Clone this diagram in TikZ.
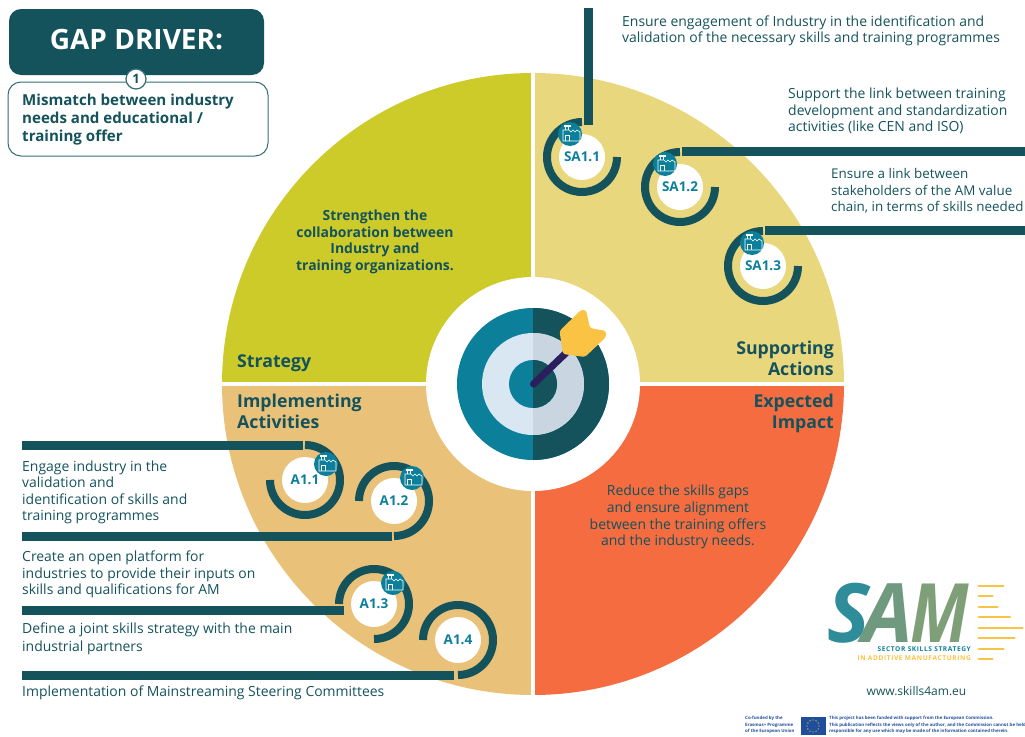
\documentclass[tikz,border=0pt]{standalone}
\usepackage{fontspec}
\setmainfont{Open Sans}

\definecolor{darkteal}{HTML}{14525C}
\definecolor{midteal}{HTML}{0C7F9B}
\definecolor{oliveq}{HTML}{CCCB2A}
\definecolor{yellowq}{HTML}{E9D77E}
\definecolor{tanq}{HTML}{E9C179}
\definecolor{orangeq}{HTML}{F46C40}
\definecolor{paleblue}{HTML}{D9E7F3}
\definecolor{palegrey}{HTML}{C9D5E0}
\definecolor{dartnavy}{HTML}{2A1F5C}
\definecolor{dartyellow}{HTML}{FBC343}
\definecolor{eublue}{HTML}{1F4E9C}
\definecolor{logoS}{HTML}{2F8C99}
\definecolor{logoA}{HTML}{6F9A80}
\definecolor{logoM}{HTML}{7F9F78}

\begin{document}
\begin{tikzpicture}[x=1pt, y=-1pt,
    bodytext/.style={inner sep=0, text=darkteal, align=left, anchor=north west, font=\fontsize{13.95}{16.5}\selectfont},
    boldtext/.style={inner sep=0, text=darkteal, align=center, font=\fontsize{13.95}{16.5}\bfseries\selectfont},
    headtext/.style={inner sep=0, text=darkteal, font=\fontsize{17.7}{21}\bfseries\selectfont},
    ringhole/.style={circle, fill=white, minimum size=46pt, inner sep=0, text=midteal, font=\fontsize{13.5}{13.5}\bfseries\selectfont},
    ringline/.style={draw=darkteal, line width=8pt},
    barline/.style={draw=darkteal, line width=9pt},
    iconball/.style={circle, fill=midteal, minimum size=24pt, inner sep=0},
    stripe/.style={draw=dartyellow, line width=2pt, line cap=round},
    logoletter/.style={inner sep=0, font=\fontsize{82}{82}\bfseries\itshape\selectfont},
    tinytext/.style={inner sep=0, anchor=north west, align=left, text=eublue, font=\fontsize{4.4}{6.6}\bfseries\selectfont},
    factory/.pic={
        \draw[white, line width=0.6pt] (-7,7) -- (-7,-4) -- (-1,-4) -- (1,-2) -- (3,-4) -- (5,-2) -- (7,-4) -- (10,-2) -- (10,7) -- cycle;
        \draw[white, line width=0.6pt] (-5,7) -- (-5,1) -- (-1,1) -- (-1,7);
        \fill[white] (-6,-9) rectangle (1,-7);
        \draw[white, line width=0.8pt] (-4.5,-7) -- (-4.5,-4) (-1.5,-7) -- (-1.5,-4);
    }]

    \useasboundingbox (0,0) rectangle (1025,736);

    % the four quarters
    \fill[oliveq] (533,384) -- (222,384) arc[start angle=180, end angle=270, radius=311] -- cycle;
    \fill[yellowq] (533,384) -- (533,73) arc[start angle=270, end angle=360, radius=311] -- cycle;
    \fill[tanq] (533,384) -- (533,695) arc[start angle=90, end angle=180, radius=311] -- cycle;
    \fill[orangeq] (533,384) -- (844,384) arc[start angle=0, end angle=90, radius=311] -- cycle;
    \draw[white, line width=4pt] (533,70) -- (533,698);
    \draw[white, line width=4pt] (219,384) -- (847,384);

    % target
    \fill[white] (533,384) circle[radius=107];
    \fill[midteal] (533,384) circle[radius=76];
    \fill[darkteal] (533,308) arc[start angle=270, end angle=450, radius=76] -- cycle;
    \fill[paleblue] (533,384) circle[radius=51];
    \fill[palegrey] (533,333) arc[start angle=270, end angle=450, radius=51] -- cycle;
    \fill[midteal] (533,384) circle[radius=24];
    \fill[darkteal] (533,360) arc[start angle=270, end angle=450, radius=24] -- cycle;
    \draw[dartnavy, line width=7pt, line cap=round] (533.5,384) -- (567,352);
    \fill[dartyellow, rounded corners=2.5pt] (559.5,331) -- (581,310) -- (586,310) -- (590,328) -- (606,331) -- (606,337) -- (585,357) -- (563,354) -- cycle;

    % gap driver boxes
    \node[fill=darkteal, rounded corners=12pt, minimum width=255pt, minimum height=66pt, inner sep=0] (gapbox) at (136.5,42) {};
    \node[inner sep=0, text=white, font=\fontsize{28}{28}\bfseries\selectfont] (gaptitle) at (136.5,39.5) {GAP DRIVER:};
    \node[draw=darkteal!85, fill=white, line width=1pt, rounded corners=13pt, minimum width=260pt, minimum height=74pt] (mismatchbox) at (138,119) {};
    \node[circle, draw=darkteal!85, fill=white, line width=1.2pt, minimum size=20pt, inner sep=0, text=darkteal, font=\fontsize{13}{13}\bfseries\selectfont] (gapnumber) at (136,79) {1};
    \node[inner sep=0, anchor=north west, align=left, text=darkteal, font=\fontsize{15.1}{18}\bfseries\selectfont] (mismatchtext) at (22,94) {Mismatch between industry\\needs and educational /\\training offer};

    % quarter texts
    \node[boldtext] (strengthen) at (375,242) {Strengthen the\\collaboration between\\Industry and\\training organizations.};
    \node[headtext, anchor=west] (strategy) at (237,363) {Strategy};
    \node[headtext, anchor=east, align=right] (supporting) at (834,358.5) {Supporting\\Actions};
    \node[headtext, anchor=west, align=left] (implementing) at (237,411.5) {Implementing\\Activities};
    \node[headtext, anchor=east, align=right] (expected) at (834,413) {Expected\\Impact};
    \node[inner sep=0, text=darkteal, align=center, font=\fontsize{13.95}{16.8}\selectfont] (reduce) at (678,517) {Reduce the skills gaps\\and ensure alignment\\between the training offers\\and the industry needs.};

    % supporting actions
    \node[ringhole] (SA11) at (582,157) {SA1.1};
    \node[ringhole] (SA12) at (680,187) {SA1.2};
    \node[ringhole] (SA13) at (763,266) {SA1.3};

    \draw[ringline] ([xshift=35pt]SA11.center) arc[start angle=0, end angle=270, radius=35];
    \draw[ringline] ([xshift=35pt]SA12.center) arc[start angle=0, end angle=270, radius=35];
    \draw[ringline] ([xshift=35pt]SA13.center) arc[start angle=0, end angle=270, radius=35];

    \node[iconball] (iconSA11) at (570,134) {};
    \node[iconball] (iconSA12) at (665,164) {};
    \node[iconball] (iconSA13) at (752,243) {};
    \pic at (iconSA11) {factory};
    \pic at (iconSA12) {factory};
    \pic at (iconSA13) {factory};

    \coordinate (barSA11) at (588,8);
    \coordinate (barSA12) at (1025,151.5);
    \coordinate (barSA13) at (1025,230.5);
    \draw[barline] (barSA11) -- ([shift={(6pt,32pt)}]SA11.center);
    \draw[barline] (barSA12) -- ([shift={(1.5pt,35.5pt)}]SA12.center);
    \draw[barline] (barSA13) -- ([shift={(1.5pt,35.5pt)}]SA13.center);

    \node[bodytext] (textSA11) at (622,15.5) {Ensure engagement of Industry in the identification and\\validation of the necessary skills and training programmes};
    \node[bodytext] (textSA12) at (788,88) {Support the link between training\\development and standardization\\activities (like CEN and ISO)};
    \node[bodytext, font=\fontsize{13.4}{16.5}\selectfont] (textSA13) at (831,168.5) {Ensure a link between\\stakeholders of the AM value\\chain, in terms of skills needed};

    % implementing activities
    \node[ringhole] (A11) at (305,480) {A1.1};
    \node[ringhole] (A12) at (394,501) {A1.2};
    \node[ringhole] (A13) at (374,604) {A1.3};
    \node[ringhole] (A14) at (458,640) {A1.4};

    \draw[ringline] ([xshift=-35pt]A11.center) arc[start angle=180, end angle=-90, radius=35];
    \draw[ringline] ([xshift=-35pt]A12.center) arc[start angle=180, end angle=450, radius=35];
    \draw[ringline] ([xshift=-35pt]A13.center) arc[start angle=180, end angle=450, radius=35];
    \draw[ringline] ([xshift=-35pt]A14.center) arc[start angle=180, end angle=450, radius=35];

    \node[iconball] (iconA11) at (326,464) {};
    \node[iconball] (iconA12) at (412,478) {};
    \node[iconball] (iconA13) at (393,583) {};
    \pic at (iconA11) {factory};
    \pic at (iconA12) {factory};
    \pic at (iconA13) {factory};

    \coordinate (barA11) at (22,445);
    \coordinate (barA12) at (22,536);
    \coordinate (barA13) at (22,610.5);
    \coordinate (barA14) at (22,675);
    \draw[barline] (barA11) -- ([shift={(-2pt,35pt)}]A11.center);
    \draw[barline] (barA12) -- ([shift={(-2.5pt,-35pt)}]A12.center);
    \draw[barline] (barA13) -- ([shift={(-30pt,-6.5pt)}]A13.center);
    \draw[barline] (barA14) -- ([shift={(-4pt,-35pt)}]A14.center);

    \node[bodytext] (textA11) at (22,460.5) {Engage industry in the\\validation and\\identification of skills and\\training programmes};
    \node[bodytext] (textA12) at (22,551) {Create an open platform for\\industries to provide their inputs on\\skills and qualifications for AM};
    \node[bodytext, font=\fontsize{13.95}{18}\selectfont] (textA13) at (22,622.5) {Define a joint skills strategy with the main\\industrial partners};
    \node[bodytext] (textA14) at (22,686) {Implementation of Mainstreaming Steering Committees};

    % logo
    \node[logoletter, text=logoS, xscale=0.98] (logoS1) at (849,613) {S};
    \node[logoletter, text=logoA, xscale=0.98] (logoA1) at (888,613) {A};
    \node[logoletter, text=logoM, xscale=0.81] (logoM1) at (940,613) {M};
    \draw[stripe] (978.5,585.7) -- (1003.5,585.7);
    \draw[stripe] (978.5,596.3) -- (992.5,596.3);
    \draw[stripe] (978.5,606.7) -- (997.5,606.7);
    \draw[stripe] (978.5,617.3) -- (1010,617.3);
    \draw[stripe] (978.5,628) -- (1022.5,628);
    \draw[stripe] (978.5,638.3) -- (1014.5,638.3);
    \draw[stripe] (978.5,649) -- (1003.5,649);
    \draw[stripe] (978.5,659.3) -- (992.5,659.3);
    \node[inner sep=0, anchor=east, text=midteal, font=\fontsize{6.6}{7}\bfseries\addfontfeature{LetterSpace=9}\selectfont] (logoline1) at (971,649) {SECTOR SKILLS STRATEGY};
    \node[inner sep=0, anchor=east, text=dartyellow, font=\fontsize{6.6}{7}\bfseries\addfontfeature{LetterSpace=9}\selectfont] (logoline2) at (971,658) {IN ADDITIVE MANUFACTURING};
    \node[inner sep=0, text=darkteal, font=\fontsize{12}{12}\selectfont] (website) at (916.5,691) {www.skills4am.eu};

    % footer
    \node[tinytext] (cofunded) at (745,716) {Co-funded by the\\Erasmus+ Programme\\of the European Union};
    \node[fill=eublue, minimum width=25pt, minimum height=18pt, inner sep=0] (euflag) at (813,726) {};
    \fill[dartyellow] (819,726) circle[radius=0.7] (818.2,729) circle[radius=0.7] (816,731.2) circle[radius=0.7] (813,732) circle[radius=0.7] (810,731.2) circle[radius=0.7] (807.8,729) circle[radius=0.7] (807,726) circle[radius=0.7] (807.8,723) circle[radius=0.7] (810,720.8) circle[radius=0.7] (813,720) circle[radius=0.7] (816,720.8) circle[radius=0.7] (818.2,723) circle[radius=0.7];
    \node[tinytext] (disclaimer) at (829,716) {This project has been funded with support from the European Commission.\\This publication reflects the views only of the author, and the Commission cannot be held\\responsible for any use which may be made of the information contained therein.};

\end{tikzpicture}
\end{document}
